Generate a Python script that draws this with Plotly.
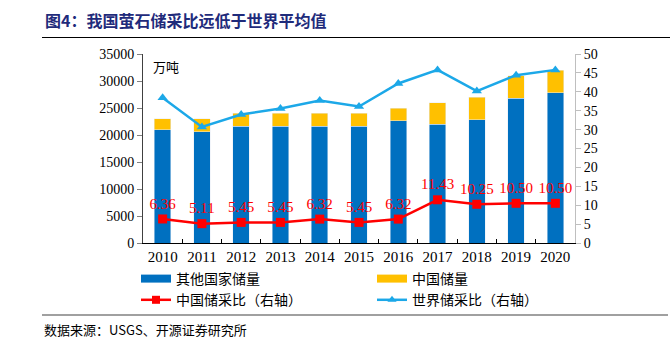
import plotly.graph_objects as go

years = ["2010", "2011", "2012", "2013", "2014", "2015", "2016", "2017", "2018", "2019", "2020"]
other_reserves = [21000, 20600, 21600, 21600, 21600, 21600, 22600, 22000, 22800, 26800, 27800]
china_reserves = [2000, 2400, 2400, 2400, 2400, 2400, 2400, 4000, 4200, 4200, 4200]
china_ratio = [6.36, 5.11, 5.45, 5.45, 6.32, 5.45, 6.32, 11.43, 10.25, 10.50, 10.50]
world_ratio = [38.4, 30.7, 34.0, 35.6, 37.7, 36.1, 42.2, 45.8, 40.2, 44.4, 45.8]

BLUE = "#0070C0"
YELLOW = "#FFC000"
RED = "#FF0000"
CYAN = "#1CA8E8"
SERIF = "Liberation Serif, Times New Roman, serif"
CJK = "Noto Sans CJK SC, sans-serif"

# plot area in pixels
L, R, T, B = 143, 575, 54, 243
W, H = 670, 344


def px_x(x):
    return (x - L) / (R - L)


def px_y(y):
    return (B - y) / (B - T)


fig = go.Figure()

fig.add_trace(go.Bar(x=years, y=other_reserves, name="其他国家储量", marker_color=BLUE,
                     width=0.42, showlegend=False))
fig.add_trace(go.Bar(x=years, y=china_reserves, name="中国储量", marker_color=YELLOW,
                     width=0.42, showlegend=False))
fig.add_trace(go.Scatter(x=years, y=china_ratio, yaxis="y2", name="中国储采比（右轴）",
                         mode="lines+markers+text", line=dict(color=RED, width=2.5),
                         marker=dict(symbol="square", size=9, color=RED),
                         text=[f"{v:.2f}" for v in china_ratio], textposition="top center",
                         textfont=dict(family=SERIF, size=15, color=RED), showlegend=False))
fig.add_trace(go.Scatter(x=years, y=world_ratio, yaxis="y2", name="世界储采比（右轴）",
                         mode="lines+markers", line=dict(color=CYAN, width=2.5),
                         marker=dict(symbol="triangle-up", size=9, color=CYAN),
                         showlegend=False))

# legend-only entries (wide bar swatches like the original)
fig.add_trace(go.Scatter(x=[None], y=[None], mode="lines", name="其他国家储量",
                         line=dict(color=BLUE, width=8)))
fig.add_trace(go.Scatter(x=[None], y=[None], mode="lines", name="中国储量",
                         line=dict(color=YELLOW, width=8)))
fig.add_trace(go.Scatter(x=[None], y=[None], mode="lines+markers", name="中国储采比（右轴）",
                         line=dict(color=RED, width=2.5),
                         marker=dict(symbol="square", size=8, color=RED)))
fig.add_trace(go.Scatter(x=[None], y=[None], mode="lines+markers", name="世界储采比（右轴）",
                         line=dict(color=CYAN, width=2.5),
                         marker=dict(symbol="triangle-up", size=8, color=CYAN)))

fig.update_layout(
    width=W, height=H,
    margin=dict(l=L, r=W - R, t=T, b=H - B, pad=0),
    paper_bgcolor="white", plot_bgcolor="white",
    barmode="stack",
    showlegend=True,
    legend=dict(orientation="h", x=px_x(136), y=px_y(263), xanchor="left", yanchor="top",
                traceorder="normal",
                entrywidth=191, entrywidthmode="pixels",
                font=dict(family=CJK, size=14, color="#000000"),
                bgcolor="rgba(0,0,0,0)", itemclick=False),
    xaxis=dict(type="category", range=[-0.5, 10.5], showline=True, linecolor="#000000",
               linewidth=1, ticks="inside", tickson="boundaries", ticklen=4, tickangle=0,
               tickcolor="#000000", tickfont=dict(family=SERIF, size=15, color="#000000"),
               showgrid=False, zeroline=False),
    yaxis=dict(range=[0, 35000], dtick=5000, tickformat="d", showline=True, linecolor="#404040",
               ticks="outside", ticklen=5, tickcolor="#808080",
               tickfont=dict(family=SERIF, size=14, color="#000000"),
               showgrid=False, zeroline=False),
    yaxis2=dict(range=[0, 50], dtick=5, overlaying="y", side="right", showline=True,
                linecolor="#BFBFBF", ticks="outside", ticklen=5, tickcolor="#BFBFBF",
                tickfont=dict(family=SERIF, size=14, color="#000000"),
                showgrid=False, zeroline=False),
)

fig.add_annotation(x=px_x(43), y=px_y(20), xref="paper", yref="paper", xanchor="left",
                   yanchor="middle", showarrow=False,
                   text="<b>图4：我国萤石储采比远低于世界平均值</b>",
                   font=dict(family=CJK, size=16, color="#1F2B7B"))
fig.add_annotation(x=px_x(151), y=px_y(66), xref="paper", yref="paper", xanchor="left",
                   yanchor="middle", showarrow=False, text="万吨",
                   font=dict(family=CJK, size=13, color="#000000"))
fig.add_annotation(x=px_x(42), y=px_y(329), xref="paper", yref="paper", xanchor="left",
                   yanchor="middle", showarrow=False, text="数据来源：USGS、开源证券研究所",
                   font=dict(family=CJK, size=13, color="#000000"))

fig.add_shape(type="line", xref="paper", yref="paper", x0=px_x(42), x1=px_x(670),
              y0=px_y(37.5), y1=px_y(37.5), line=dict(color="#000000", width=1))
fig.add_shape(type="line", xref="paper", yref="paper", x0=px_x(42), x1=px_x(668),
              y0=px_y(315), y1=px_y(315), line=dict(color="#808080", width=1.5))

fig.write_html("out.html")
